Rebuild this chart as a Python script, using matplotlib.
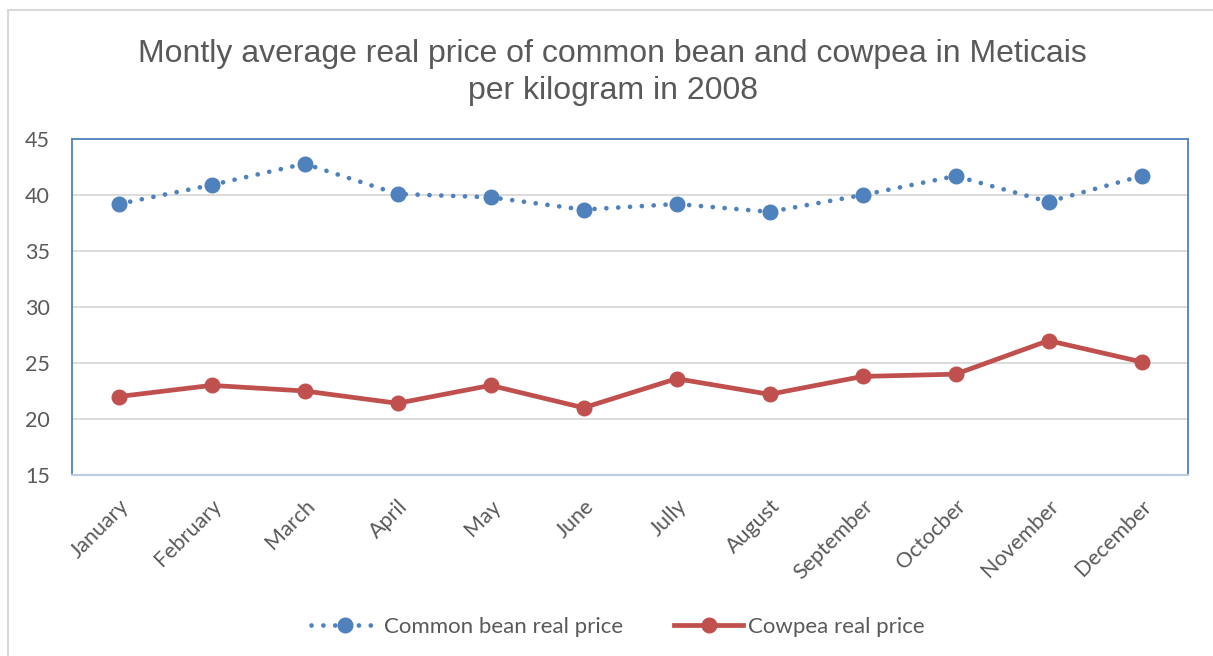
import matplotlib.pyplot as plt
from matplotlib.patches import Rectangle

months = ['January', 'February', 'March', 'April', 'May', 'June', 'Jully',
          'August', 'September', 'Octocber', 'November', 'December']
common_bean = [39.2, 40.9, 42.8, 40.1, 39.8, 38.7, 39.2, 38.5, 40.0, 41.7, 39.4, 41.7]
cowpea = [22.0, 23.0, 22.5, 21.4, 23.0, 21.0, 23.6, 22.2, 23.8, 24.0, 27.0, 25.1]

plt.rcParams['font.family'] = ['Lato', 'DejaVu Sans']
text_color = '#595959'

fig = plt.figure(figsize=(12.13, 6.56), dpi=100)
ax = fig.add_axes([0.0594, 0.276, 0.92, 0.512])

# outer chart border
fig.patches.append(Rectangle((8 / 1213, -0.01), 1.02, 1 - 10 / 656 + 0.01,
                             transform=fig.transFigure, fill=False,
                             edgecolor='#d9d9d9', linewidth=1.5))

x = range(len(months))
ax.plot(x, common_bean, linestyle=(0, (0.01, 2.5)), dash_capstyle='round',
        color='#4F81BD', linewidth=3.4, marker='o', markersize=10.5,
        label='Common bean real price')
ax.plot(x, cowpea, linestyle='-', color='#C0504D', linewidth=3.4,
        marker='o', markersize=10.5, label='Cowpea real price')

ax.set_xlim(-0.5, 11.5)
ax.set_ylim(15, 45)
ax.set_yticks(range(15, 46, 5))
ax.yaxis.grid(True, color='#d9d9d9', linewidth=1.3)
ax.set_axisbelow(True)
ax.set_xticks(list(x))
ax.set_xticklabels(months, rotation=45, ha='right', rotation_mode='anchor')
ax.tick_params(axis='both', length=0, labelsize=15.5, colors=text_color)
ax.tick_params(axis='y', pad=16)
ax.tick_params(axis='x', pad=15)

for side in ['left', 'top', 'right']:
    ax.spines[side].set_color('#4F81BD')
    ax.spines[side].set_linewidth(1.3)
ax.spines['bottom'].set_color('#b9cde5')
ax.spines['bottom'].set_linewidth(1.5)

fig.suptitle('Montly average real price of common bean and cowpea in Meticais\nper kilogram in 2008',
             x=0.505, y=0.94, fontsize=23, color=text_color, family='Liberation Sans',
             linespacing=1.3)

fig.legend(loc='center', bbox_to_anchor=(0.509, 0.044), ncol=2, frameon=False,
           fontsize=16, labelcolor=text_color, handlelength=3.1, columnspacing=2.3,
           handletextpad=0.2)

fig.savefig('out.png', dpi=100)
